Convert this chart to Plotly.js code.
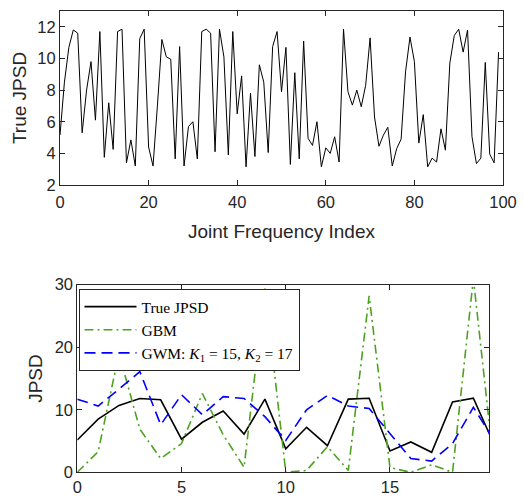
<!DOCTYPE html>
<html>
<head>
<meta charset="utf-8">
<script src="https://cdn.plot.ly/plotly-3.0.1.min.js"></script>
<style>html,body{margin:0;padding:0;background:#fff;}#chart{width:524px;height:496px;}</style>
</head>
<body>
<div id="chart"></div>
<script>
// Top panel: True JPSD over joint frequency index 0..99
const trueJPSD = [
  5.16, 8.5, 10.7, 11.8, 11.6, 5.3, 8.0, 9.8, 6.1, 11.7,
  3.75, 7.2, 4.25, 11.7, 11.85, 3.4, 4.85, 3.2, 11.25, 11.85,
  4.4, 3.2, 7.05, 11.2, 10.1, 9.95, 3.65, 10.75, 3.2, 5.7,
  6.0, 3.65, 11.7, 11.85, 11.6, 4.1, 11.85, 10.1, 3.9, 11.7,
  6.5, 8.9, 3.15, 7.8, 3.8, 9.6, 8.5, 4.05, 10.75, 11.7,
  7.9, 10.7, 3.3, 9.1, 3.65, 11.1, 4.95, 4.5, 6.0, 3.15,
  4.35, 4.0, 5.05, 3.45, 11.85, 7.9, 7.05, 8.0, 6.95, 8.3,
  11.3, 6.3, 4.45, 5.15, 5.65, 3.2, 4.3, 4.9, 9.15, 11.35,
  9.8, 4.65, 6.45, 3.15, 3.7, 3.45, 5.55, 4.2, 9.7, 11.45,
  11.85, 10.4, 11.8, 5.05, 3.35, 3.7, 9.75, 3.95, 3.4, 10.4
];
const topIndex = trueJPSD.map((_, i) => i);

// Bottom panel: first joint frequencies, comparison of estimators
const zoomTrue = trueJPSD.slice(0, 21);
const gbm = [0, 3.3, 19.0, 6.9, 2.2, 4.6, 12.6, 6.0, 0.8, 29.4,
             0, 0.3, 4.1, 0.3, 28.2, 0.75, 0, 1.2, 0, 31, 0.6];
const gwm = [11.7, 10.6, 13.3, 16.1, 7.6, 12.4, 9.2, 12.1, 11.8, 8.9,
             5.1, 10.0, 12.3, 10.6, 10.2, 6.2, 2.2, 1.8, 4.6, 10.4, 5.1];
const zoomIndex = zoomTrue.map((_, i) => i);

const seriesNames = ['True JPSD', 'GBM',
  'GWM: <i>K</i><sub>1</sub> = 15, <i>K</i><sub>2</sub> = 17'];

const axCol = '#262626';
const sans = 'Liberation Sans, Arial, Helvetica, sans-serif';
const W = 524, H = 496;

function axisBase(extra) {
  return Object.assign({
    showline: true, mirror: 'ticks', linecolor: axCol, linewidth: 1,
    ticks: 'inside', ticklen: 5, tickwidth: 1, tickcolor: axCol,
    showgrid: false, zeroline: false, automargin: false,
    tickfont: {family: sans, size: 16.5, color: axCol}
  }, extra);
}

const traces = [
  {x: topIndex, y: trueJPSD, xaxis: 'x', yaxis: 'y', mode: 'lines',
   line: {color: '#000', width: 1}, showlegend: false, hoverinfo: 'skip'},
  {x: zoomIndex, y: zoomTrue, xaxis: 'x2', yaxis: 'y2', mode: 'lines',
   name: seriesNames[0], line: {color: '#000', width: 1.6}},
  {x: zoomIndex, y: gbm, xaxis: 'x2', yaxis: 'y2', mode: 'lines',
   name: seriesNames[1], line: {color: '#4DA21F', width: 1.6, dash: '9px,4px,2px,4px'}},
  {x: zoomIndex, y: gwm, xaxis: 'x2', yaxis: 'y2', mode: 'lines',
   name: seriesNames[2], line: {color: '#0000FF', width: 1.6, dash: '11px,6px'}}
];

const layout = {
  width: W, height: H,
  margin: {l: 0, r: 0, t: 0, b: 0},
  paper_bgcolor: '#fff', plot_bgcolor: '#fff',
  showlegend: true,
  xaxis: axisBase({domain: [60/W, 503/W], range: [0, 100], tickvals: [0,20,40,60,80,100],
    anchor: 'y', ticklabelstandoff: 2,
    title: {text: 'Joint Frequency Index', font: {family: sans, size: 19, color: axCol}, standoff: 14}}),
  yaxis: axisBase({domain: [(H-185)/H, (H-11)/H], range: [2, 13], tickvals: [2,4,6,8,10,12],
    anchor: 'x',
    title: {text: 'True JPSD', font: {family: sans, size: 19, color: axCol}, standoff: 5}}),
  xaxis2: axisBase({domain: [77.3/W, 489/W], range: [0, 19.75], tickvals: [0,5,10,15],
    anchor: 'y2'}),
  yaxis2: axisBase({domain: [(H-472.3)/H, (H-284.7)/H], range: [0, 30], tickvals: [0,10,20,30],
    anchor: 'x2',
    title: {text: 'JPSD', font: {family: sans, size: 19, color: axCol}, standoff: 6}}),
  legend: {
    x: 78.5/W, y: (H-289)/H, xanchor: 'left', yanchor: 'top',
    bgcolor: '#fff', bordercolor: axCol, borderwidth: 1,
    font: {family: 'Liberation Serif, Times New Roman, serif', size: 15.5, color: '#000'},
    tracegroupgap: 0, itemwidth: 52
  }
};

Plotly.newPlot('chart', traces, layout, {staticPlot: true, displayModeBar: false});
</script>
</body>
</html>
